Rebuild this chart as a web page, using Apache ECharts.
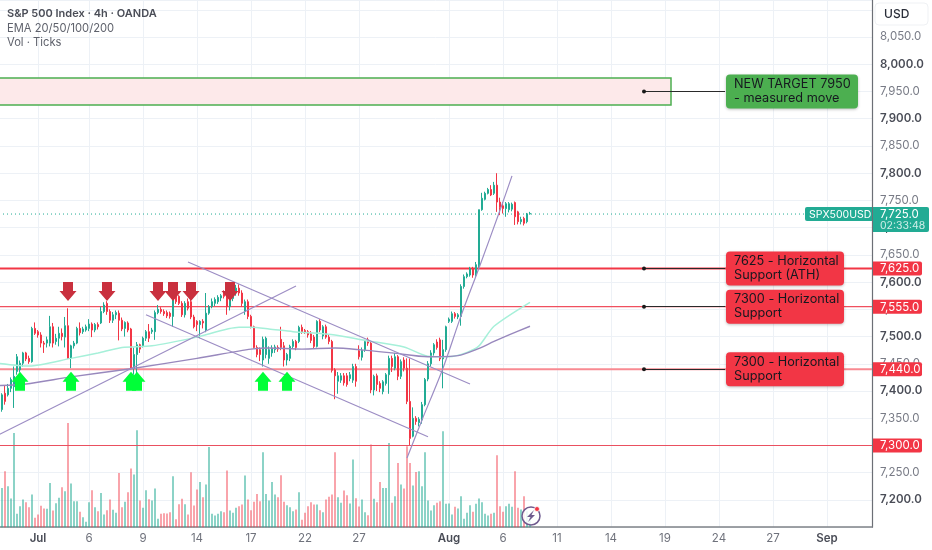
<!DOCTYPE html>
<html><head><meta charset="utf-8">
<style>html,body{margin:0;padding:0;background:#fff}#c{width:932px;height:550px}</style>
<script src="https://cdn.jsdelivr.net/npm/echarts@6/dist/echarts.min.js"></script>
</head><body><div id="c"></div>
<script>
const barCount = 292;
const tickIndex = [13,30,48,66,84,102,120,150,168,186,204,222,240,258,276];
const tickLabels = ['Jul','6','9','14','17','22','27','Aug','6','11','14','19','24','27','Sep'];
const opens = [7360,7366,7396,7393,7405,7408,7436,7439,7451,7470,
7460,7454,7515,7509,7503,7488,7488,7488,7518,7491,
7497,7506,7499,7520,7460,7483,7488,7515,7509,7512,
7515,7523,7512,7522,7525,7546,7561,7546,7530,7540,
7543,7530,7515,7525,7514,7442,7467,7485,7483,7497,
7509,7509,7509,7544,7550,7546,7544,7543,7537,7574,
7574,7561,7540,7564,7564,7536,7528,7522,7528,7512,
7543,7555,7561,7564,7571,7580,7580,7555,7570,7580,
7589,7580,7546,7564,7537,7518,7480,7476,7457,7467,
7460,7470,7476,7480,7495,7483,7457,7460,7482,7491,
7491,7517,7511,7509,7505,7499,7482,7528,7501,7518,
7499,7491,7439,7418,7420,7428,7428,7423,7420,7445,
7474,7462,7476,7494,7488,7402,7428,7414,7399,7414,
7430,7460,7442,7463,7427,7457,7442,7381,7317,7350,
7342,7347,7375,7422,7450,7470,7490,7494,7459,7476,
7528,7528,7542,7536,7537,7592,7610,7613,7625,7613,
7628,7733,7752,7763,7770,7763,7778,7747,7740,7735,
7733,7734,7746,7729,7711,7717,7711,7725];
const closes = [7352,7393,7381,7405,7421,7427,7463,7451,7470,7459,
7454,7515,7506,7503,7488,7486,7494,7518,7488,7497,
7506,7500,7520,7460,7483,7488,7515,7507,7514,7518,
7523,7512,7522,7518,7546,7558,7546,7530,7540,7544,
7530,7514,7526,7512,7442,7467,7485,7477,7497,7509,
7497,7512,7544,7550,7546,7542,7538,7537,7568,7564,
7561,7540,7561,7552,7536,7518,7522,7528,7525,7543,
7555,7564,7568,7572,7575,7574,7555,7577,7583,7589,
7580,7561,7564,7537,7518,7480,7467,7467,7495,7497,
7476,7479,7481,7477,7480,7457,7467,7482,7491,7480,
7517,7509,7508,7503,7493,7482,7528,7512,7518,7499,
7491,7438,7428,7428,7428,7415,7412,7430,7445,7418,
7463,7475,7491,7488,7402,7427,7412,7405,7417,7430,
7460,7445,7463,7427,7454,7442,7381,7313,7350,7344,
7348,7375,7421,7450,7470,7485,7480,7459,7476,7518,
7532,7542,7537,7540,7592,7610,7615,7625,7613,7632,
7733,7754,7763,7770,7760,7778,7747,7737,7735,7744,
7744,7743,7720,7711,7715,7708,7725,7726];
const lows = [7345,7362,7375,7390,7398,7369,7430,7434,7445,7455,
7450,7452,7503,7498,7480,7470,7480,7482,7480,7485,
7482,7493,7480,7459,7442,7478,7486,7502,7505,7509,
7510,7499,7508,7513,7523,7543,7540,7525,7525,7532,
7493,7510,7500,7508,7440,7430,7428,7470,7480,7492,
7490,7505,7494,7541,7542,7538,7534,7533,7518,7560,
7558,7536,7535,7548,7532,7515,7510,7497,7515,7508,
7540,7552,7556,7560,7565,7570,7540,7548,7565,7575,
7575,7555,7540,7532,7515,7478,7462,7455,7445,7460,
7450,7463,7470,7472,7475,7445,7447,7455,7478,7475,
7488,7505,7505,7498,7488,7478,7480,7508,7495,7496,
7486,7434,7385,7395,7415,7410,7408,7418,7415,7408,
7458,7456,7472,7483,7396,7392,7400,7398,7394,7410,
7395,7435,7438,7420,7422,7436,7376,7301,7315,7338,
7335,7340,7372,7418,7445,7465,7476,7455,7405,7472,
7525,7525,7533,7532,7520,7588,7607,7610,7608,7608,
7626,7731,7750,7761,7758,7760,7729,7723,7726,7720,
7728,7730,7705,7706,7706,7704,7708,7724];
const highs = [7365,7396,7410,7413,7425,7445,7468,7456,7472,7472,
7465,7518,7526,7512,7508,7492,7500,7538,7525,7505,
7518,7515,7536,7552,7485,7492,7518,7526,7518,7522,
7532,7526,7525,7526,7555,7563,7565,7550,7545,7548,
7548,7535,7528,7528,7516,7480,7490,7487,7500,7512,
7523,7516,7548,7558,7554,7550,7548,7546,7572,7576,
7576,7565,7565,7570,7570,7540,7530,7530,7532,7580,
7558,7570,7572,7576,7578,7585,7590,7580,7590,7595,
7596,7585,7568,7568,7540,7520,7484,7480,7500,7500,
7482,7484,7485,7484,7518,7490,7470,7485,7495,7494,
7520,7522,7514,7512,7510,7503,7530,7532,7521,7522,
7503,7494,7442,7435,7433,7433,7433,7435,7450,7450,
7484,7480,7494,7498,7492,7430,7432,7418,7420,7433,
7465,7465,7470,7466,7458,7462,7460,7460,7370,7354,
7352,7380,7424,7455,7475,7488,7495,7498,7494,7520,
7535,7546,7545,7543,7596,7614,7618,7628,7628,7637,
7733,7764,7766,7773,7778,7784,7800,7755,7747,7747,
7747,7746,7748,7731,7720,7720,7727,7729];
const volumes = [207,118,168,123,86,283,40,63,83,75,
60,98,28,38,64,56,55,133,50,72,
88,120,108,313,131,78,78,46,30,16,
75,111,60,48,103,38,51,83,52,43,
163,60,76,105,176,158,291,80,58,111,
84,80,116,25,40,42,41,45,153,24,
69,85,69,38,165,65,113,136,90,128,
241,40,35,40,48,45,170,50,43,58,
63,68,155,83,51,76,100,78,225,100,
80,136,98,90,156,76,66,60,48,53,
105,22,43,63,75,68,68,51,45,83,
91,98,225,90,73,110,96,71,203,87,
62,83,45,36,248,85,75,136,118,118,
253,73,93,193,128,116,243,193,125,166,
168,123,225,80,50,66,73,78,288,70,
71,38,61,56,93,25,43,66,46,70,
86,75,40,35,40,43,216,63,46,63,
70,61,168,58,53,93,48,30];
const emaSlow = [[0,7410],[9,7413],[24,7426],[44,7441],[66,7460],[84,7477],[90,7479],[101,7477],[112,7479],[120,7476],[131,7470],[143,7463],[153,7465],[159,7476],[165,7491],[170,7503],[177,7519]];
const emaFast = [[0,7451],[10,7446],[24,7460],[33,7470],[41,7480],[51,7483],[66,7499],[80,7517],[84,7517],[90,7514],[98,7509],[112,7503],[122,7493],[135,7481],[143,7464],[150,7463],[156,7471],[160,7483],[165,7519],[177,7563]];
const trendRising = [[0,7320],[99,7593]];
const trendUpper = [[63,7637],[157,7413]];
const trendLower = [[49,7540],[143,7316]];
const trendCurve = [[136,7277],[141,7347],[148,7442],[154,7538],[160,7626],[167,7732],[171,7795]];
const downArrows = [[23,7583],[36,7583],[53,7583],[58,7583],[64,7583],[77,7583]];
const upArrows = [[7,7418],[24,7418],[44,7418],[46,7418],[88,7418],[96,7418]];
const levels = [7625,7555,7440,7300];
const levelText = ['7,625.0','7,555.0','7,440.0','7,300.0'];
const lastPrice = 7725;
const targetLow = 7925, targetHigh = 7975, targetLine = 7950;
const calloutTexts = ['NEW TARGET 7950\n- measured move','7625 - Horizontal\nSupport (ATH)','7300 - Horizontal\nSupport','7300 - Horizontal\nSupport'];

const FONT = 'Inter, "Noto Sans", sans-serif';
const UP = '#22ab94', DOWN = '#f23645', GRID = '#edf1f6', PURPLE = '#9c8dc4';
const categories = Array.from({length: barCount}, (_, i) => {
  const k = tickIndex.indexOf(i);
  return k >= 0 ? tickLabels[k] : '';
});
const tickSet = new Set(tickIndex);
const candleData = opens.map((o, i) => [o, closes[i], lows[i], highs[i]]);
const volumeData = volumes.map((v, i) => ({
  value: v,
  itemStyle: {color: closes[i] >= opens[i] ? 'rgba(34,171,148,.52)' : 'rgba(242,54,69,.45)'}
}));
const lineSeries = (data, color, width, smooth, z) => ({
  type: 'line', data, smooth, symbol: 'none', silent: true, z,
  lineStyle: {color, width}, itemStyle: {color}
});
const callout = (i, price, text, bg, w) => ({
  coord: [i, price], symbol: 'circle', symbolSize: 0,
  label: {show: true, position: [1, 0], align: 'left', verticalAlign: 'middle', formatter: text,
    fontFamily: FONT, fontSize: 12.7, lineHeight: 14, color: '#16181f',
    backgroundColor: bg, borderRadius: 4, padding: [3, 8], width: w, height: 28,
    shadowColor: 'rgba(0,0,0,.25)', shadowBlur: 3, shadowOffsetY: 1}
});
const dot = (i, price) => ({coord: [i, price], symbol: 'circle', symbolSize: 4, itemStyle: {color: '#1a1a1a'}, label: {show: false}});
const conn = (a, b, p) => [{coord: [a, p]}, {coord: [b, p]}];

const option = {
  animation: false,
  backgroundColor: '#ffffff',
  grid: {left: -1, right: 60, top: 0, bottom: 22.8, outerBoundsMode: 'none'},
  xAxis: {
    type: 'category', data: categories, boundaryGap: false,
    axisLine: {lineStyle: {color: '#7f8288', width: 1.5}},
    axisTick: {show: false},
    splitLine: {show: true, interval: i => tickSet.has(i), lineStyle: {color: GRID, width: 1}},
    axisLabel: {
      interval: i => tickSet.has(i), margin: 5, hideOverlap: false,
      formatter: v => /[A-Z]/.test(v) ? `{b|${v}}` : `{n|${v}}`,
      rich: {
        b: {fontFamily: FONT, fontSize: 11.5, fontWeight: 600, color: '#4a4d57'},
        n: {fontFamily: FONT, fontSize: 11.5, color: '#6f727c'}
      }
    }
  },
  yAxis: [{
    type: 'value', position: 'right', min: 7150, max: 8118, interval: 50,
    axisLine: {show: true, lineStyle: {color: '#6c6f76', width: 1.2}},
    axisTick: {show: false},
    splitLine: {show: true, lineStyle: {color: GRID, width: 1}},
    axisLabel: {
      margin: 8, showMinLabel: false, showMaxLabel: false,
      formatter: v => {
        if (v >= 8100 || v <= 7150) return '';
        const s = Math.floor(v / 1000) + ',' + String(v % 1000).padStart(3, '0') + '.0';
        return v % 100 === 0 ? `{b|${s}}` : `{n|${s}}`;
      },
      rich: {
        b: {fontFamily: FONT, fontSize: 11.5, fontWeight: 600, color: '#4a4d57'},
        n: {fontFamily: FONT, fontSize: 11.5, color: '#787b86'}
      }
    }
  }, {
    type: 'value', show: false, min: 0, max: 1582, splitLine: {show: false}
  }],
  series: [
    {type: 'bar', yAxisIndex: 1, data: volumeData, barWidth: 2, silent: true, z: 1},
    {type: 'line', data: [], symbol: 'none', silent: true, z: 2,
      markArea: {silent: true, itemStyle: {color: '#fde9ea', borderColor: '#4caf50', borderWidth: 1.5},
        data: [[{coord: [0, targetHigh]}, {coord: [224, targetLow]}]]}
    },
    lineSeries([[0, levels[0]], [barCount - 1, levels[0]]], DOWN, 2, false, 3),
    lineSeries([[0, levels[1]], [barCount - 1, levels[1]]], '#f0505f', 1.2, false, 3),
    lineSeries([[0, levels[2]], [barCount - 1, levels[2]]], '#f88a92', 2, false, 3),
    lineSeries([[0, levels[3]], [barCount - 1, levels[3]]], '#ea5060', 1.2, false, 3),
    {type: 'line', data: [[0, lastPrice], [barCount - 1, lastPrice]], symbol: 'none', silent: true, z: 3,
      lineStyle: {color: UP, width: 1, type: [1, 3]}},
    {type: 'candlestick', data: candleData, barWidth: 2.4, silent: true, z: 4,
      itemStyle: {color: UP, color0: DOWN, borderColor: UP, borderColor0: DOWN, borderWidth: 1}},
    lineSeries(emaFast, '#a6f0d9', 1.5, 0.25, 5),
    lineSeries(emaSlow, '#9888bd', 1.4, 0.25, 5),
    lineSeries(trendRising, PURPLE, 1.2, false, 6),
    lineSeries(trendUpper, PURPLE, 1.2, false, 6),
    lineSeries(trendLower, PURPLE, 1.2, false, 6),
    lineSeries(trendCurve, PURPLE, 1.2, 0.3, 6),
    {type: 'scatter', data: downArrows, symbol: 'path://M3.5 0 H13.5 V9 H17 L8.5 19 L0 9 H3.5 Z', symbolSize: [17, 19],
      symbolKeepAspect: false, itemStyle: {color: '#c9303e', opacity: 1}, silent: true, z: 7},
    {type: 'scatter', data: upArrows, symbol: 'path://M8.5 0 L17 10 H13.5 V19 H3.5 V10 H0 Z', symbolSize: [17, 19],
      symbolKeepAspect: false, itemStyle: {color: '#00ff38', opacity: 1}, silent: true, z: 7},
    {type: 'line', data: [], symbol: 'none', silent: true, z: 8,
      markLine: {silent: true, symbol: 'none', label: {show: false}, animation: false,
        lineStyle: {color: '#2a2a2a', width: 1, type: 'solid'},
        data: [conn(215, 242, targetLine), conn(215, 242, levels[0]), conn(215, 242, levels[1]), conn(215, 242, levels[2])]},
      markPoint: {silent: true, animation: false,
        data: [
          dot(215, targetLine), dot(215, levels[0]), dot(215, levels[1]), dot(215, levels[2]),
          callout(242, targetLine, calloutTexts[0], '#4caf50', 116),
          callout(242, levels[0], calloutTexts[1], '#f23645', 102),
          callout(242, levels[1], calloutTexts[2], '#f23645', 102),
          callout(242, levels[2], calloutTexts[3], '#f23645', 102)
        ]}
    }
  ]
};
const chart = echarts.init(document.getElementById('c'), null, {renderer: 'canvas', width: 932, height: 550});
chart.setOption(option);

const Y = p => chart.convertToPixel({yAxisIndex: 0}, p);
const txt = (x, y, text, size, color, weight) => ({
  type: 'text', z: 100, x, y,
  style: {text, x: 0, y: 0, fill: color, fontFamily: FONT, fontSize: size, fontWeight: weight || 400, verticalAlign: 'middle', align: 'left'}
});
const rect = (x, y, w, h, fill, r, stroke) => ({
  type: 'rect', z: 99, shape: {x, y, width: w, height: h, r: r || 0},
  style: {fill, stroke: stroke || null, lineWidth: 1}
});
const g = [
  txt(7, 14, 'S&P 500 Index · 4h · OANDA', 11, '#4a4d57', 600),
  txt(7, 28.5, 'EMA 20/50/100/200', 11.2, '#5f626c'),
  txt(7, 42.5, 'Vol · Ticks', 11.2, '#5f626c'),
  rect(875, 3, 53, 22, '#ffffff', 4, '#eff1f4'),
  txt(884, 14.5, 'USD', 12, '#2a2e39', 500)
];
levels.forEach((p, i) => {
  const y = Y(p);
  g.push(rect(873, y - 7, 49, 14, '#f23645', [0, 2, 2, 0]));
  g.push(txt(880, y + 0.5, levelText[i], 11.5, '#ffffff'));
});
const ly = Y(lastPrice);
g.push(rect(805, ly - 7, 67, 14, UP, [2, 0, 0, 2]));
g.push(txt(809, ly + 0.5, 'SPX500USD', 10.5, '#ffffff'));
g.push(rect(873, ly - 7, 56, 25, UP, [0, 2, 2, 0]));
g.push(txt(880, ly + 0.5, '7,725.0', 11.5, '#ffffff'));
g.push(txt(880, ly + 11.5, '02:33:48', 10.5, '#cfeee8'));
g.push({type: 'circle', z: 99, shape: {cx: 531, cy: 516, r: 9}, style: {fill: 'rgba(255,255,255,.85)', stroke: '#6f5a8e', lineWidth: 1.5}});
g.push({type: 'polygon', z: 100, shape: {points: [[534, 510], [527, 517], [530.5, 517], [528, 522], [535, 515], [531.5, 515]]}, style: {fill: '#6f5a8e'}});
g.push({type: 'circle', z: 101, shape: {cx: 537, cy: 509, r: 2.5}, style: {fill: '#f23645', stroke: '#fff', lineWidth: 0.8}});
chart.setOption({graphic: g});
</script>
</body></html>
